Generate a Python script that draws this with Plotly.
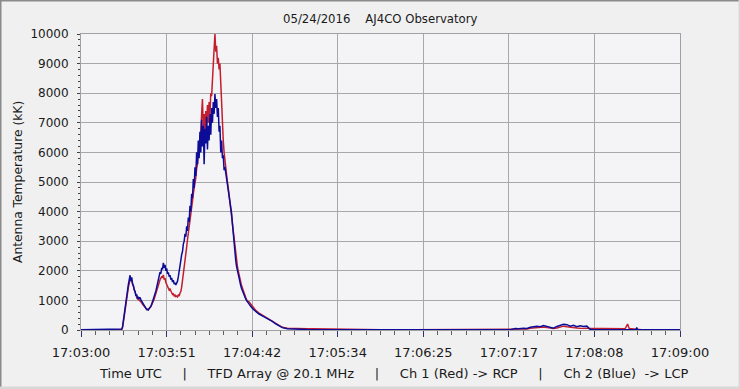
import plotly.graph_objects as go

# ---------------- data (seconds after 17:03:00 UTC, antenna temperature kK) -------------
seconds = [
    0, 10, 20, 23, 24, 24.5,
    25, 25.5, 26, 26.5, 27, 27.5, 28, 28.5, 29, 29.5,
    30, 30.5, 31, 31.5, 32, 32.5, 33, 33.5, 34, 34.5,
    35, 35.5, 36, 36.5, 37, 37.5, 38, 38.5, 39, 39.5,
    40, 40.5, 41, 41.5, 42, 42.5, 43, 43.5, 44, 44.5,
    45, 45.5, 46, 46.5, 47, 47.5, 48, 48.5, 49, 49.5,
    50, 50.5, 51, 51.5, 52, 52.5, 53, 53.5, 54, 54.5,
    55, 55.5, 56, 56.5, 57, 57.5, 58, 58.5, 59, 59.5,
    60, 60.5, 61, 61.5, 62, 62.5, 63, 63.5, 64, 64.5,
    65, 65.5, 66, 66.5, 67, 67.5, 68, 68.5, 69, 69.5,
    70, 70.5, 71, 71.5, 72, 72.5, 73, 73.5, 74, 74.5,
    75, 75.5, 76, 76.5, 77, 77.5, 78, 78.5, 79, 79.5,
    80, 80.5, 81, 81.5, 82, 82.5, 83, 83.5, 84, 84.5,
    85, 85.5, 86, 86.5, 87, 87.5, 88, 88.5, 89, 89.5,
    90, 90.5, 91, 91.5, 92, 92.5, 93, 93.5, 94, 94.5,
    95, 95.5, 96, 96.5, 97, 97.5, 98, 98.5, 99, 99.5,
    100,
    101, 102, 103.5, 105, 107, 109, 111, 113, 115, 117,
    119, 121, 124, 128, 132, 136, 140, 145, 150, 153,
    156, 160, 180, 200, 220, 240, 255, 258, 261, 263,
    266, 268, 270, 272, 274, 276, 278, 280, 282, 284,
    286, 288, 290, 292, 294, 296, 298, 300, 302, 304,
    306, 308, 312, 318, 324, 327, 328.5, 329.5, 331, 333.5,
    334, 334.5, 337, 345, 360,
]

ch1_red_rcp = [
    8, 8, 8, 8, 10, 20,
    80, 250, 450, 650, 850, 1050, 1250, 1450, 1600, 1700,
    1750, 1650, 1550, 1450, 1350, 1250, 1150, 1100, 1050, 1050,
    1000, 980, 950, 920, 870, 830, 780, 760, 720, 700,
    680, 700, 720, 760, 800, 850, 920, 980, 1050, 1150,
    1250, 1350, 1450, 1550, 1650, 1700, 1750, 1800, 1780, 1860,
    1700, 1750, 1600, 1550, 1450, 1450, 1350, 1380, 1300, 1250,
    1200, 1220, 1150, 1180, 1130, 1150, 1120, 1180, 1150, 1250,
    1300, 1450, 1650, 1850, 2100, 2350, 2600, 2800, 3050, 3250,
    3400, 3650, 3900, 4150, 4350, 4600, 4750, 5000, 5150, 5450,
    5600, 5950, 6100, 6500, 6700, 7300, 7800, 6800, 7300, 6700,
    7400, 6900, 7600, 7000, 7700, 7300, 8000, 7900, 8600, 9050,
    9500, 10000, 9400, 9600, 9000, 9200, 8800, 9000, 8200, 7900,
    7000, 6400, 6000, 5700, 5400, 5200, 5000, 4800, 4550, 4300,
    4050, 3750, 3500, 3250, 3000, 2750, 2500, 2300, 2150, 2000,
    1850, 1700, 1600, 1500, 1420, 1320, 1250, 1170, 1100, 1030,
    970,
    950, 870, 760, 660, 570, 500, 440, 370, 300, 220,
    140, 90, 60, 45, 40, 40, 45, 40, 35, 10,
    8, 8, 8, 8, 8, 8, 8, 10, 30, 30,
    40, 35, 60, 70, 90, 80, 100, 80, 60, 50,
    70, 100, 130, 110, 90, 80, 70, 60, 60, 50,
    45, 40, 40, 40, 40, 40, 200, 40, 40, 30,
    10, 10, 8, 8, 8,
]

ch2_blue_lcp = [
    8, 8, 8, 8, 10, 30,
    120, 300, 500, 700, 900, 1100, 1350, 1550, 1700, 1850,
    1650, 1780, 1550, 1500, 1350, 1300, 1150, 1200, 1050, 1120,
    1050, 1100, 1020, 980, 930, 880, 820, 780, 730, 690,
    700, 680, 720, 750, 800, 870, 950, 1030, 1120, 1220,
    1320, 1450, 1560, 1700, 1800, 1950, 1900, 2100, 2050, 2270,
    2100, 2200, 2000, 2080, 1900, 1950, 1800, 1850, 1700, 1760,
    1620, 1680, 1550, 1600, 1520, 1580, 1650, 1800, 1950, 2150,
    2350, 2550, 2650, 2900, 3000, 3250, 3150, 3500, 3350, 3800,
    3650, 4200, 4000, 4600, 4450, 5100, 4800, 5500, 5200, 6000,
    5600, 6400, 5800, 6700, 6000, 7100, 6200, 6900, 5600, 6800,
    6300, 7200, 6100, 6900, 6400, 7300, 6600, 7500, 7000, 7700,
    7300, 7970, 7500, 7800, 7200, 7500, 6700, 6900, 6000, 6400,
    5800, 5900, 5400, 5500, 5300, 5100, 4950, 4850, 4600, 4400,
    4200, 3950, 3600, 3200, 2900, 2600, 2350, 2150, 2000, 1850,
    1700, 1600, 1500, 1400, 1320, 1250, 1150, 1100, 1050, 1000,
    950,
    880, 800, 700, 620, 540, 480, 420, 360, 290, 210,
    130, 80, 45, 30, 20, 15, 12, 10, 10, 8,
    8, 8, 8, 8, 8, 8, 8, 10, 50, 40,
    60, 50, 90, 100, 130, 110, 150, 120, 80, 60,
    120, 150, 190, 180, 130, 160, 110, 140, 120, 130,
    20, 15, 10, 10, 10, 10, 10, 10, 10, 10,
    80, 10, 8, 8, 8,
]

x_tick_labels = ["17:03:00", "17:03:51", "17:04:42", "17:05:34",
                 "17:06:25", "17:07:17", "17:08:08", "17:09:00"]
y_tick_values = [0, 1000, 2000, 3000, 4000, 5000, 6000, 7000, 8000, 9000, 10000]
y_tick_labels = ["0", "1000", "2000", "3000", "4000", "5000",
                 "6000", "7000", "8000", "9000", "10000"]

sp4 = "&nbsp;" * 4
sp5 = "&nbsp;" * 5
title_text = "05/24/2016" + sp4 + "AJ4CO Observatory"
y_title = "Antenna Temperature (kK)"
caption = ("Time UTC" + sp5 + "|" + sp5 + "TFD Array @ 20.1 MHz" + sp5 + "|" + sp5 +
           "Ch 1 (Red) -&gt; RCP" + sp5 + "|" + sp5 + "Ch 2 (Blue)&nbsp;&nbsp;-&gt; LCP")

# ---------------- figure ----------------
span = 360.0
n_major = len(x_tick_labels) - 1
major_vals = [span * i / n_major for i in range(n_major + 1)]
minor_vals = [span * (i + k / 6) / n_major for i in range(n_major) for k in range(1, 6)]

fig = go.Figure()
fig.add_trace(go.Scatter(x=seconds, y=ch1_red_rcp, mode="lines",
                         line=dict(color="#c41e2e", width=1.5), name="Ch 1"))
fig.add_trace(go.Scatter(x=seconds, y=ch2_blue_lcp, mode="lines",
                         line=dict(color="#0c0c98", width=1.5), name="Ch 2"))

W, H = 740, 389
ml, mr, mt, mb = 81, 60, 34, 59
pw, ph = W - ml - mr, H - mt - mb

fig.update_layout(
    width=W, height=H, autosize=False,
    margin=dict(l=ml, r=mr, t=mt, b=mb, pad=0, autoexpand=False),
    paper_bgcolor="#f0f0f0", plot_bgcolor="#f4f4f7",
    showlegend=False,
    font=dict(family="DejaVu Sans", size=12, color="#1a1a1a"),
)
fig.update_xaxes(
    range=[0, span], tickvals=major_vals, ticktext=x_tick_labels,
    showgrid=True, gridcolor="#a8a8a8", gridwidth=1,
    showline=True, linecolor="#a0a0a0", linewidth=1, mirror=True,
    ticks="outside", ticklen=6, tickcolor="#303070", tickwidth=1,
    tickfont=dict(family="DejaVu Sans", size=13, color="#1a1a1a"),
    ticklabelstandoff=4, automargin=False,
    minor=dict(tickvals=minor_vals, ticks="outside", ticklen=4,
               tickcolor="#606060", showgrid=False),
    zeroline=False, fixedrange=True,
)
fig.update_yaxes(
    range=[0, 10000], tickvals=y_tick_values, ticktext=y_tick_labels,
    showgrid=True, gridcolor="#a8a8a8", gridwidth=1,
    showline=True, linecolor="#a0a0a0", linewidth=1, mirror=True,
    ticks="outside", ticklen=3, tickcolor="#404040",
    tickfont=dict(family="DejaVu Sans", size=12, color="#1a1a1a"),
    ticklabelstandoff=6, automargin=False,
    minor=dict(dtick=200, ticks="outside", ticklen=2, tickcolor="#404040", showgrid=False),
    zeroline=False, fixedrange=True,
)

fig.add_annotation(text=title_text, xref="paper", yref="paper",
                   x=0.5, y=(H - mb - 18) / ph, showarrow=False,
                   yanchor="middle", xanchor="center",
                   font=dict(family="DejaVu Sans Condensed, Liberation Sans Narrow, Liberation Sans",
                             size=13, color="#1a1a1a"))
fig.add_annotation(text=y_title, xref="paper", yref="paper",
                   x=(18 - ml) / pw, y=0.5, textangle=-90, showarrow=False,
                   xanchor="center", yanchor="middle",
                   font=dict(family="DejaVu Sans", size=12.3, color="#1a1a1a"))
fig.add_annotation(text=caption, xref="paper", yref="paper",
                   x=(393 - ml) / pw, y=-(373 - (H - mb)) / ph, showarrow=False,
                   xanchor="center", yanchor="middle",
                   font=dict(family="DejaVu Sans", size=13, color="#1a1a1a"))

# window frame
fx0, fx1 = -ml / pw, (W - ml) / pw
fy0, fy1 = -mb / ph, (H - mb) / ph
fig.add_shape(type="line", xref="paper", yref="paper", x0=fx0, x1=fx1, y0=fy1, y1=fy1,
              line=dict(color="#8a8a8a", width=3))
fig.add_shape(type="line", xref="paper", yref="paper", x0=fx0, x1=fx0, y0=fy0, y1=fy1,
              line=dict(color="#8a8a8a", width=3))
fig.add_shape(type="line", xref="paper", yref="paper", x0=fx1, x1=fx1, y0=fy0, y1=fy1,
              line=dict(color="#d8d8d8", width=3))
fig.add_shape(type="line", xref="paper", yref="paper", x0=fx0, x1=fx1, y0=fy0, y1=fy0,
              line=dict(color="#d8d8d8", width=5))

fig.write_html("out.html", config={"displayModeBar": False},
               post_script="document.body.style.margin='0';document.body.style.overflow='hidden';")
